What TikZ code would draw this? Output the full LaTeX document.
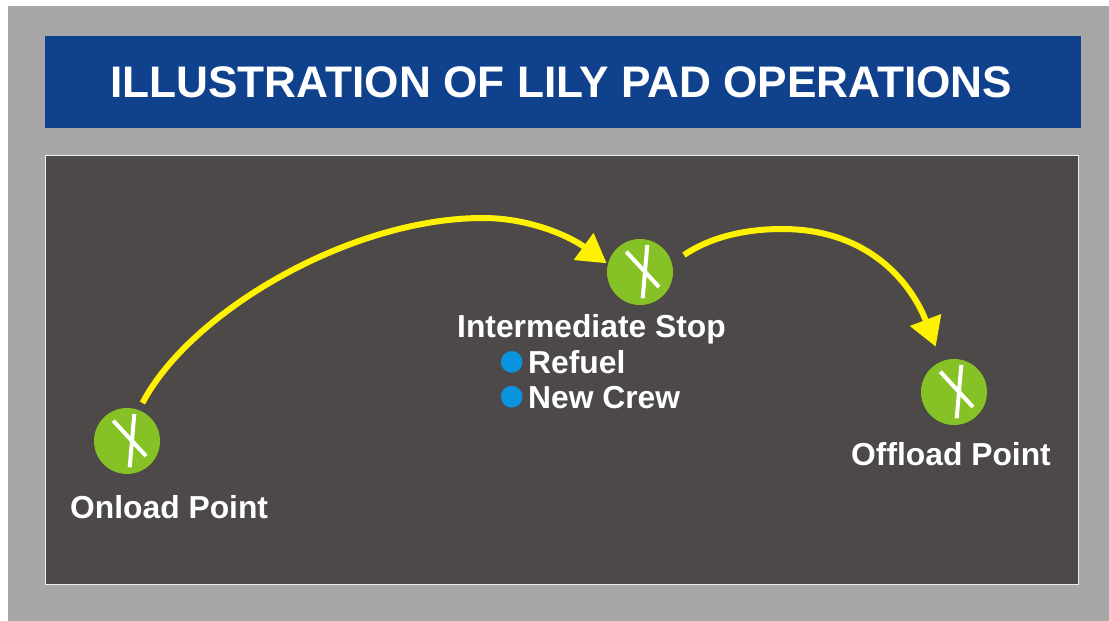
\documentclass[tikz,border=0pt]{standalone}
\usepackage{fontspec}
\setmainfont{Liberation Sans}
\usetikzlibrary{arrows.meta}
\definecolor{framegray}{HTML}{A7A7A7}
\definecolor{titleblue}{HTML}{0F418C}
\definecolor{paneldark}{HTML}{4D4948}
\definecolor{padgreen}{HTML}{86C226}
\definecolor{routeyellow}{HTML}{FFF200}
\definecolor{bulletblue}{HTML}{0A94E0}
\tikzset{
  x=1pt,y=-1pt,
  padcircle/.style={circle,fill=padgreen,minimum size=66pt,inner sep=0pt},
  padbar/.style={draw=white,line width=4pt},
  route/.style={draw=routeyellow,line width=6pt,-{Triangle[length=28.6pt,width=32pt]}},
  lbl/.style={text=white,font=\fontsize{31.8}{31.8}\selectfont\bfseries,inner sep=0pt,anchor=base west},
  bullet/.style={circle,fill=bulletblue,minimum size=21.7pt,inner sep=0pt},
}
\newcommand{\padmark}[1]{%
  \draw[padbar] ([shift={(-13.7,-20.3)}]#1.center) -- ([shift={(19,15)}]#1.center);
  \draw[padbar] ([shift={(7.3,-27)}]#1.center) -- ([shift={(2.7,26.3)}]#1.center);
}
\begin{document}
\begin{tikzpicture}
\useasboundingbox (0,0) rectangle (1109,621);
\fill[white] (0,0) rectangle (1109,621);
\fill[framegray] (8,6) rectangle (1109,621);
\fill[titleblue] (45,36) rectangle (1081,128);
\draw[fill=paneldark,draw=white!85!gray,line width=1pt] (45,155.5) rectangle (1078,584);
\node[text=white,font=\fontsize{44.2}{44.2}\selectfont\bfseries,inner sep=0pt] (title) at (561.3,82) {ILLUSTRATION OF LILY PAD OPERATIONS};
\node[padcircle] (onload) at (127,441) {};
\node[padcircle] (inter) at (640,272) {};
\node[padcircle] (offload) at (954,392) {};
\padmark{onload}\padmark{inter}\padmark{offload}
\node[lbl] (onloadlbl) at (70,518) {Onload Point};
\node[lbl] (interlbl) at (457,337.5) {Intermediate Stop};
\node[lbl] (offloadlbl) at (851,465) {Offload Point};
\node[lbl] (refuel) at (528,373.5) {Refuel};
\node[lbl] (crew) at (528,408.5) {New Crew};
\node[bullet] (b1) at (511.7,361.9) {};
\node[bullet] (b2) at (511.7,396.7) {};
\coordinate (s1) at (142.5,403);
\coordinate (p1) at (483,218);
\coordinate (t1) at (606.7,263.3);
\coordinate (s2) at (684,255);
\coordinate (p2) at (782,229);
\coordinate (t2) at (935.7,346.7);
\draw[route] (s1) .. controls (190,312) and (350,218) .. (p1) .. controls (530,218) and (570,236.5) .. (t1);
\draw[route] (s2) .. controls (712,236) and (748,229) .. (p2) .. controls (872,229) and (913,287) .. (t2);
\end{tikzpicture}
\end{document}
